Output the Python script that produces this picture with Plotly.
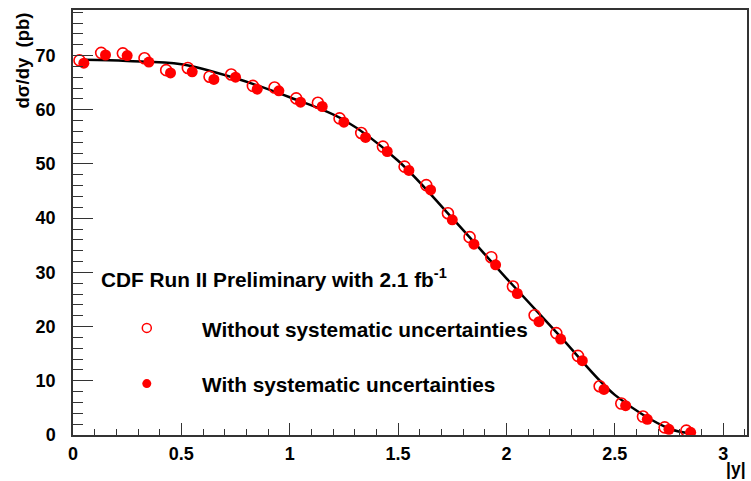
import plotly.graph_objects as go

# Bin positions (|y|) and cross sections (pb)
x_open = [0.03, 0.13, 0.23, 0.33, 0.43, 0.53, 0.63, 0.73, 0.83, 0.93,
          1.03, 1.13, 1.23, 1.33, 1.43, 1.53, 1.63, 1.73, 1.83, 1.93,
          2.03, 2.13, 2.23, 2.33, 2.43, 2.53, 2.63, 2.73, 2.83]
y_open = [69.1, 70.5, 70.4, 69.5, 67.3, 67.7, 66.1, 66.5, 64.4, 64.1,
          62.1, 61.3, 58.4, 55.7, 53.2, 49.5, 46.1, 40.9, 36.5, 32.8,
          27.4, 22.1, 18.8, 14.6, 9.0, 5.8, 3.4, 1.4, 0.8]
x_fill = [0.05, 0.15, 0.25, 0.35, 0.45, 0.55, 0.65, 0.75, 0.85, 0.95,
          1.05, 1.15, 1.25, 1.35, 1.45, 1.55, 1.65, 1.75, 1.85, 1.95,
          2.05, 2.15, 2.25, 2.35, 2.45, 2.55, 2.65, 2.75, 2.85]
y_fill = [68.6, 70.1, 70.0, 68.8, 66.8, 67.0, 65.6, 66.0, 63.8, 63.5,
          61.4, 60.6, 57.7, 54.9, 52.3, 48.8, 45.2, 39.7, 35.2, 31.4,
          26.1, 20.9, 17.7, 13.7, 8.4, 5.4, 2.9, 1.05, 0.5]
# Fit curve
x_fit = [0.05, 0.25, 0.5, 0.75, 1.0, 1.25, 1.5, 1.75, 2.0, 2.25, 2.5, 2.75, 2.85]
y_fit = [69.2, 69.0, 68.4, 65.8, 62.3, 58.1, 50.6, 40.0, 28.9, 18.1, 7.4, 1.2, 0.3]

legend_labels = ["Without systematic uncertainties", "With systematic uncertainties"]
header_text = "CDF Run II Preliminary with 2.1 fb<sup>-1</sup>"

RED = "#ff0000"
FONT = "Liberation Sans, Arial, Helvetica, sans-serif"

fig = go.Figure()
fig.add_trace(go.Scatter(x=x_fit, y=y_fit, mode="lines", line=dict(color="black", width=2.5, shape="spline"),
                         showlegend=False, hoverinfo="skip"))
fig.add_trace(go.Scatter(x=x_open, y=y_open, mode="markers",
                         marker=dict(symbol="circle-open", size=11, color=RED, line=dict(width=1.6, color=RED)),
                         showlegend=False))
fig.add_trace(go.Scatter(x=x_fill, y=y_fill, mode="markers",
                         marker=dict(symbol="circle", size=11, color=RED),
                         showlegend=False))

# legend glyphs on an overlay axis in [0,1]
fig.add_trace(go.Scatter(x=[0.1095], y=[0.252], xaxis="x2", yaxis="y2", mode="markers",
                         marker=dict(symbol="circle-open", size=9, color=RED, line=dict(width=1.5, color=RED)),
                         showlegend=False, hoverinfo="skip"))
fig.add_trace(go.Scatter(x=[0.1095], y=[0.121], xaxis="x2", yaxis="y2", mode="markers",
                         marker=dict(symbol="circle", size=9, color=RED),
                         showlegend=False, hoverinfo="skip"))

tickfont = dict(family=FONT, size=18, color="black", weight="bold")
fig.update_layout(
    width=751, height=481,
    margin=dict(l=73, r=2, t=10, b=46),
    paper_bgcolor="white", plot_bgcolor="white",
    xaxis=dict(range=[0, 3.11], tickvals=[0, 0.5, 1, 1.5, 2, 2.5, 3],
               ticktext=["0", "0.5", "1", "1.5", "2", "2.5", "3"],
               ticks="inside", ticklen=12, tickwidth=1.2, tickcolor="#333",
               minor=dict(dtick=0.1, ticks="inside", ticklen=6, tickwidth=1.2, tickcolor="#333"),
               showline=True, linecolor="#333", linewidth=1.5, mirror=True,
               showgrid=False, zeroline=False, tickfont=tickfont, ticklabelstandoff=2),
    yaxis=dict(range=[0, 78.4], tickvals=[0, 10, 20, 30, 40, 50, 60, 70],
               ticks="inside", ticklen=20, tickwidth=1.2, tickcolor="#333",
               minor=dict(dtick=2, ticks="inside", ticklen=10, tickwidth=1.2, tickcolor="#333"),
               showline=True, linecolor="#333", linewidth=1.5, mirror=True,
               showgrid=False, zeroline=False, tickfont=tickfont, ticklabelstandoff=12),
    xaxis2=dict(range=[0, 1], overlaying="x", visible=False, fixedrange=True),
    yaxis2=dict(range=[0, 1], overlaying="y", visible=False, fixedrange=True),
    showlegend=False,
)

annfont = dict(family=FONT, size=20.8, color="black", weight="bold")
fig.add_annotation(text=header_text, xref="paper", yref="paper", x=0.038, y=0.369,
                   xanchor="left", yanchor="middle", showarrow=False, font=annfont)
fig.add_annotation(text=legend_labels[0], xref="paper", yref="paper", x=0.189, y=0.249,
                   xanchor="left", yanchor="middle", showarrow=False, font=annfont)
fig.add_annotation(text=legend_labels[1], xref="paper", yref="paper", x=0.189, y=0.119,
                   xanchor="left", yanchor="middle", showarrow=False, font=annfont)
# axis titles (ROOT style, at the axis ends)
fig.add_annotation(text="dσ/dy  (pb)", xref="paper", yref="paper", x=-0.075, y=1.0,
                   xanchor="center", yanchor="top", textangle=-90, showarrow=False,
                   font=dict(family=FONT, size=18.5, color="black", weight="bold"))
fig.add_annotation(text="|y|", xref="paper", yref="paper", x=1.0, y=-0.053,
                   xanchor="right", yanchor="top", showarrow=False, borderpad=0,
                   font=dict(family=FONT, size=17.5, color="black", weight="bold"))

fig.write_html("out.html")
